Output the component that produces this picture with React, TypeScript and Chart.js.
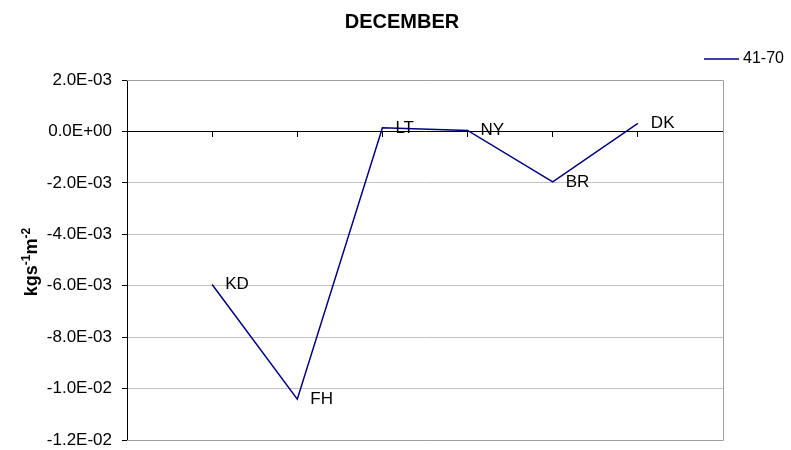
import React, { useEffect, useRef } from "react";
import { Chart, registerables } from "chart.js";

Chart.register(...registerables);

const categories = ["", "KD", "FH", "LT", "NY", "BR", "DK", ""];
const seriesName = "41-70";
const values: (number | null)[] = [null, -0.00595, -0.01041, 0.00014, 0.00004, -0.00196, 0.00031, null];
const yMin = -0.012;
const yMax = 0.002;
const yStep = 0.002;
const titleText = "DECEMBER";
const yTitleParts = [
  { t: "kgs", sup: false },
  { t: "-1", sup: true },
  { t: "m", sup: false },
  { t: "-2", sup: true },
];

const FONT = '"Liberation Sans", Arial, sans-serif';
const LINE = "#000080";

function fmtExp(v: number): string {
  if (Math.abs(v) < 1e-12) v = 0;
  const s = v.toExponential(1);
  const [m, e] = s.split("e");
  const n = parseInt(e, 10);
  const sign = n < 0 ? "-" : "+";
  return m.toUpperCase() + "E" + sign + String(Math.abs(n)).padStart(2, "0");
}

const decorPlugin = {
  id: "decor",
  beforeDatasetsDraw(chart: any) {
    const { ctx, chartArea: a } = chart;
    ctx.save();
    ctx.strokeStyle = "#a0a0a0";
    ctx.lineWidth = 1;
    ctx.beginPath();
    ctx.moveTo(a.left, a.top + 0.5);
    ctx.lineTo(a.right + 0.5, a.top + 0.5);
    ctx.lineTo(a.right + 0.5, a.bottom + 0.5);
    ctx.lineTo(a.left, a.bottom + 0.5);
    ctx.stroke();
    ctx.restore();
  },
  afterDatasetsDraw(chart: any) {
    const { ctx } = chart;
    const meta = chart.getDatasetMeta(0);
    ctx.save();
    ctx.fillStyle = "#000";
    ctx.font = `17px ${FONT}`;
    ctx.textAlign = "left";
    ctx.textBaseline = "middle";
    meta.data.forEach((pt: any, i: number) => {
      if (values[i] === null || !categories[i]) return;
      ctx.fillText(categories[i], pt.x + 13, pt.y);
    });
    ctx.restore();
  },
  afterDraw(chart: any) {
    const { ctx } = chart;
    ctx.save();
    // title
    ctx.fillStyle = "#000";
    ctx.font = `bold 20px ${FONT}`;
    ctx.textAlign = "center";
    ctx.textBaseline = "middle";
    ctx.fillText(titleText, 402, 22);
    // legend
    ctx.strokeStyle = LINE;
    ctx.lineWidth = 1.5;
    ctx.beginPath();
    ctx.moveTo(704, 59);
    ctx.lineTo(739, 59);
    ctx.stroke();
    ctx.font = `16px ${FONT}`;
    ctx.textAlign = "left";
    ctx.fillText(seriesName, 743, 59);
    // y title with superscripts
    const big = `bold 18px ${FONT}`;
    const small = `bold 12px ${FONT}`;
    let total = 0;
    yTitleParts.forEach((p) => {
      ctx.font = p.sup ? small : big;
      total += ctx.measureText(p.t).width;
    });
    ctx.translate(37, 262);
    ctx.rotate(-Math.PI / 2);
    ctx.textAlign = "left";
    ctx.textBaseline = "alphabetic";
    let x = -total / 2;
    yTitleParts.forEach((p) => {
      ctx.font = p.sup ? small : big;
      ctx.fillText(p.t, x, p.sup ? -7 : 0);
      x += ctx.measureText(p.t).width;
    });
    ctx.restore();
  },
};

export default function App() {
  const ref = useRef<HTMLCanvasElement | null>(null);
  useEffect(() => {
    if (!ref.current) return;
    const chart = new Chart(ref.current, {
      type: "line",
      data: {
        labels: categories,
        datasets: [
          {
            label: seriesName,
            data: values,
            borderColor: LINE,
            backgroundColor: LINE,
            borderWidth: 1.5,
            pointRadius: 0,
            tension: 0,
          },
        ],
      },
      options: {
        responsive: false,
        animation: false,
        layout: { padding: { left: 0, top: 80, right: 68, bottom: 10 } },
        plugins: {
          legend: { display: false },
          title: { display: false },
          tooltip: { enabled: false },
        },
        scales: {
          x: {
            type: "category",
            offset: false,
            position: { y: 0 },
            grid: {
              drawOnChartArea: false,
              drawTicks: true,
              tickLength: 5,
              color: "#000",
            },
            border: { display: true, color: "#000", width: 1 },
            ticks: { display: false },
            afterFit: (scale: any) => {
              scale.height = 0;
              scale.paddingBottom = 0;
              scale.paddingTop = 0;
            },
          },
          y: {
            min: yMin,
            max: yMax,
            ticks: {
              stepSize: yStep,
              color: "#000",
              padding: 10,
              font: { family: FONT, size: 17 },
              callback: (v: any) => fmtExp(Number(v)),
            },
            grid: {
              color: "#c0c0c0",
              tickColor: "#000",
              tickLength: 5,
            },
            border: { display: true, color: "#000", width: 1 },
            afterFit: (scale: any) => {
              scale.width = 127;
              scale.paddingBottom = 0;
              scale.paddingTop = 0;
            },
          },
        },
      } as any,
      plugins: [decorPlugin],
    });
    return () => chart.destroy();
  }, []);
  return (
    <div style={{ position: "absolute", left: 0, top: 0, width: 791, height: 450, background: "#fff" }}>
      <canvas ref={ref} width={791} height={450} style={{ display: "block" }} />
    </div>
  );
}
